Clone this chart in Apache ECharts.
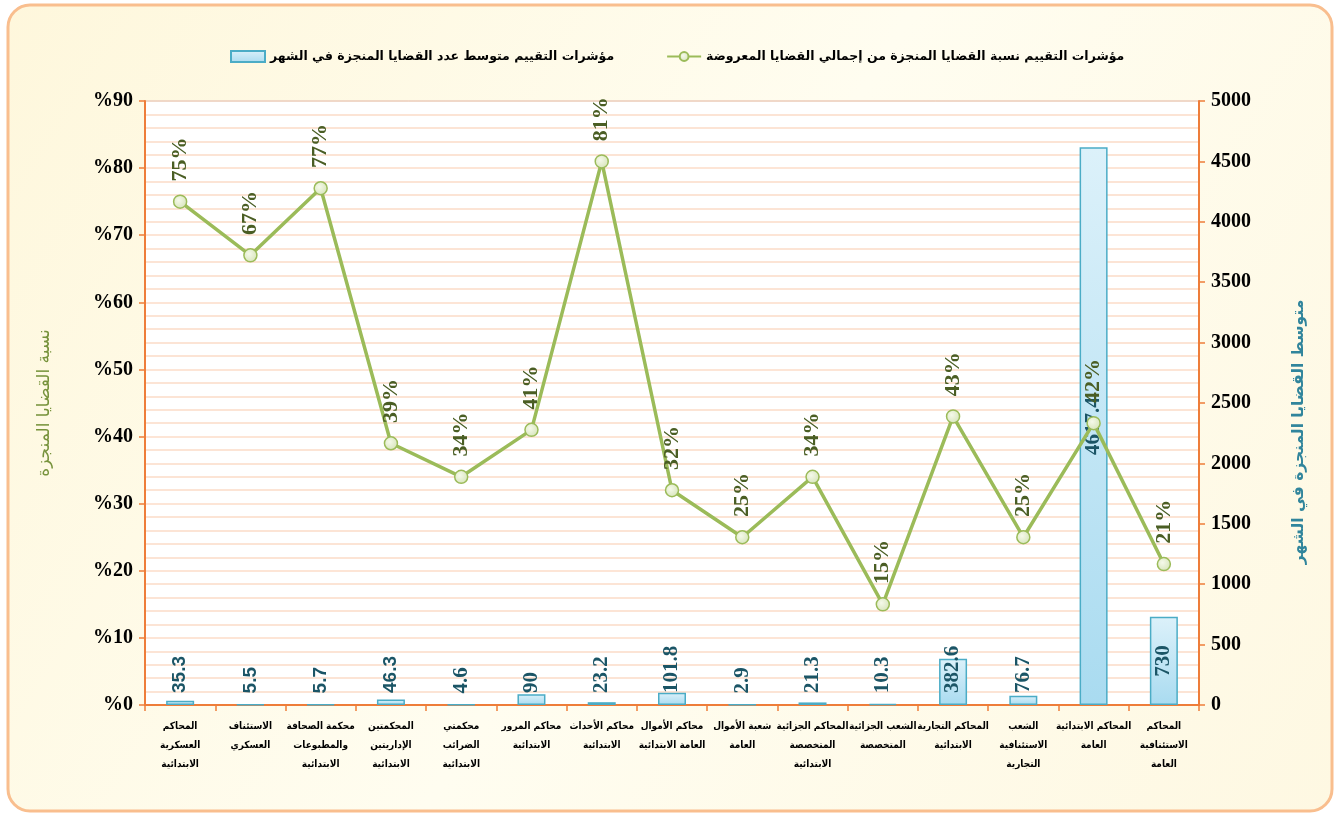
<!DOCTYPE html>
<html><head><meta charset="utf-8">
<script src="https://cdn.jsdelivr.net/npm/echarts@6/dist/echarts.min.js"></script>
<style>html,body{margin:0;padding:0;background:#fff}#c{width:1335px;height:816px}</style>
</head><body><div id="c"></div>
<script>
const categories = [
  'المحاكم\nالعسكرية\nالابتدائية',
  'الاستئناف\nالعسكري',
  'محكمة الصحافة\nوالمطبوعات\nالابتدائية',
  'المحكمتين\nالإداريتين\nالابتدائية',
  'محكمتي\nالضرائب\nالابتدائية',
  'محاكم المرور\nالابتدائية',
  'محاكم الأحداث\nالابتدائية',
  'محاكم الأموال\nالعامة الابتدائية',
  'شعبة الأموال\nالعامة',
  'المحاكم الجزائية\nالمتخصصة\nالابتدائية',
  'الشعب الجزائية\nالمتخصصة',
  'المحاكم التجارية\nالابتدائية',
  'الشعب\nالاستئنافية\nالتجارية',
  'المحاكم الابتدائية\nالعامة',
  'المحاكم\nالاستئنافية\nالعامة'
];
const completionRate = [75, 67, 77, 39, 34, 41, 81, 32, 25, 34, 15, 43, 25, 42, 21];
const monthlyAverage = [35.3, 5.5, 5.7, 46.3, 4.6, 90, 23.2, 101.8, 2.9, 21.3, 10.3, 382.6, 76.7, 4617.4, 730];
const leftAxis = { min: 0, max: 90, interval: 10 };
const rightAxis = { min: 0, max: 5000, interval: 500 };
const seriesNames = [
  'مؤشرات التقييم متوسط عدد القضايا المنجزة في الشهر',
  'مؤشرات التقييم نسبة القضايا المنجزة من إجمالي القضايا المعروضة'
];
const axisNames = ['نسبة القضايا المنجزة', 'متوسط القضايا المنجزة في الشهر'];

const ORANGE = '#EE7D3A';
const chart = echarts.init(document.getElementById('c'), null, { renderer: 'canvas' });

const barData = monthlyAverage.map((v, i) => ({
  value: v,
  label: {
    position: v > 700 ? 'inside' : 'insideBottom',
    align: v > 700 ? 'center' : 'left',
    fontFamily: i < 4 ? 'Liberation Sans' : 'Liberation Serif',
    fontSize: i < 4 ? 19 : 21
  }
}));

chart.setOption({
  animation: false,
  graphic: [{
    type: 'rect', z: -10, silent: true,
    shape: { x: 8, y: 5, width: 1324, height: 806, r: 22 },
    style: {
      fill: new echarts.graphic.LinearGradient(0, 0, 1, 1, [
        { offset: 0, color: '#FEF7DC' }, { offset: 0.5, color: '#FFFDF0' }, { offset: 1, color: '#FEF8E2' }
      ]),
      stroke: '#F9BE8E', lineWidth: 3
    }
  }],
  legend: {
    top: 45, left: 225,
    itemGap: 52, itemWidth: 34, itemHeight: 11,
    data: [{ name: seriesNames[0], icon: 'rect' }, { name: seriesNames[1] }],
    textStyle: { fontFamily: 'DejaVu Sans', fontWeight: 'bold', fontSize: 12.5, color: '#000' }
  },
  grid: {
    left: 145, right: 136, top: 101, bottom: 111,
    show: true, backgroundColor: '#ffffff', borderColor: '#9a9a9a', borderWidth: 1
  },
  xAxis: {
    type: 'category', data: categories,
    axisLine: { lineStyle: { color: ORANGE, width: 2 } },
    axisTick: { show: true, length: 6, lineStyle: { color: ORANGE, width: 1.5 } },
    axisLabel: {
      interval: 0, margin: 12, color: '#000', fontFamily: 'DejaVu Sans Condensed',
      fontWeight: 'bold', fontSize: 10, lineHeight: 19
    }
  },
  yAxis: [{
    type: 'value', min: leftAxis.min, max: leftAxis.max, interval: leftAxis.interval,
    name: axisNames[0], nameLocation: 'middle', nameRotate: 90, nameGap: 92,
    nameTextStyle: { color: '#77933C', fontFamily: 'DejaVu Sans', fontSize: 17 },
    axisLine: { show: true, lineStyle: { color: ORANGE, width: 2 } },
    axisTick: { show: true, length: 6, lineStyle: { color: ORANGE, width: 1.5 } },
    axisLabel: {
      margin: 12, formatter: v => '%' + v, color: '#000',
      fontFamily: 'Liberation Serif', fontWeight: 'bold', fontSize: 20
    },
    splitLine: { show: true, lineStyle: { color: '#FCDCC8', width: 1.5 } },
    minorTick: { show: false, splitNumber: 5 },
    minorSplitLine: { show: true, lineStyle: { color: '#FCDCC8', width: 1.5 } }
  }, {
    type: 'value', min: rightAxis.min, max: rightAxis.max, interval: rightAxis.interval,
    name: axisNames[1], nameLocation: 'middle', nameRotate: 90, nameGap: 92,
    nameTextStyle: { color: '#31859C', fontFamily: 'DejaVu Sans', fontWeight: 'bold', fontSize: 15.5, padding: [0, 58, 0, 0] },
    axisLine: { show: true, lineStyle: { color: ORANGE, width: 2 } },
    axisTick: { show: true, length: 6, lineStyle: { color: ORANGE, width: 1.5 } },
    axisLabel: {
      margin: 12, color: '#000', formatter: v => String(v),
      fontFamily: 'Liberation Serif', fontWeight: 'bold', fontSize: 20
    },
    splitLine: { show: false }
  }],
  series: [{
    name: seriesNames[0], type: 'bar', yAxisIndex: 1, barWidth: 28, z: 2,
    data: barData,
    itemStyle: {
      color: new echarts.graphic.LinearGradient(0, 0, 0, 1, [
        { offset: 0, color: '#DCF1FA' }, { offset: 1, color: '#A9DBF0' }
      ]),
      borderColor: '#4BACC6', borderWidth: 1.5
    },
    label: {
      show: true, rotate: 90, distance: 12, verticalAlign: 'middle',
      color: '#1B5566', fontWeight: 'bold'
    }
  }, {
    name: seriesNames[1], type: 'line', yAxisIndex: 0, z: 5,
    data: completionRate,
    symbol: 'circle', symbolSize: 13,
    lineStyle: { color: '#9BBB59', width: 3.5 },
    itemStyle: {
      color: new echarts.graphic.RadialGradient(0.4, 0.4, 0.7, [
        { offset: 0, color: '#F5F9EA' }, { offset: 1, color: '#D3E2B4' }
      ]),
      borderColor: '#9BBB59', borderWidth: 1.5
    },
    label: {
      show: true, position: 'top', distance: 13, rotate: 90, align: 'left', verticalAlign: 'middle',
      formatter: p => p.value + '%', color: '#4A5E24',
      fontFamily: 'Liberation Serif', fontWeight: 'bold', fontSize: 22
    }
  }]
});
</script></body></html>
